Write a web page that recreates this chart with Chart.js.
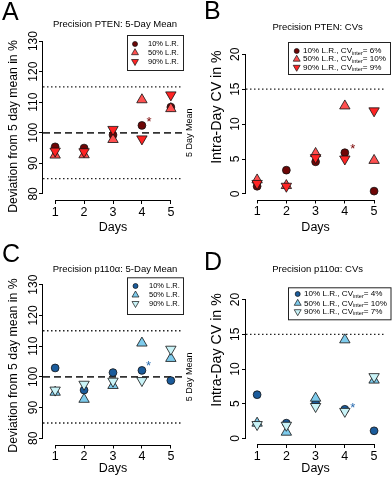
<!DOCTYPE html>
<html>
<head>
<meta charset="utf-8">
<script src="https://cdn.jsdelivr.net/npm/chart.js@4.4.0/dist/chart.umd.min.js"></script>
<style>
  body { margin: 0; background: #fff; }
  .grid { display: grid; grid-template-columns: 196px 196px; width: 392px; }
  canvas { display: block; }
</style>
</head>
<body>
<div class="grid">
  <canvas id="chartA" width="196" height="240"></canvas>
  <canvas id="chartB" width="196" height="240"></canvas>
  <canvas id="chartC" width="196" height="241"></canvas>
  <canvas id="chartD" width="196" height="241"></canvas>
</div>
<script>
// ---- data ----
const days = [1, 2, 3, 4, 5];
const levelLabels = ["10% L.R.", "50% L.R.", "90% L.R."];
const meanTicks = [80, 90, 100, 110, 120, 130];
const cvTicks = [0, 5, 10, 15, 20];

// PTEN: deviation from 5 day mean (%)
const ptenMean10 = [95.4, 95.0, 99.3, 102.4, 108.4];
const ptenMean50 = [92.7, 92.8, 97.8, 110.8, 107.9];
const ptenMean90 = [94.0, 93.8, 101.1, 98.0, 112.4];
// PTEN: intra-day CV (%)
const ptenCv10 = [1.1, 3.4, 4.6, 5.9, 0.4];
const ptenCv50 = [2.0, 1.2, 5.8, 12.6, 4.8];
const ptenCv90 = [1.5, 1.1, 5.2, 5.0, 11.9];
const ptenCvInter = [6, 10, 9];

// p110a: deviation from 5 day mean (%)
const p110Mean10 = [102.9, 95.7, 101.4, 102.1, 98.8];
const p110Mean50 = [95.0, 92.7, 97.2, 111.0, 106.0];
const p110Mean90 = [95.7, 97.6, 98.6, 98.8, 109.0];
// p110a: intra-day CV (%)
const p110Cv10 = [6.3, 2.2, 5.1, 4.2, 1.1];
const p110Cv50 = [2.2, 0.9, 5.8, 14.2, 8.4];
const p110Cv90 = [2.0, 1.9, 4.6, 3.9, 8.9];
const p110CvInter = [4, 10, 7];

// limits and reference lines
const meanLimits = [85, 115];
const meanCentre = 100;
const cvLimit = 15;
const starDay = 4;

// ---- styles ----
const FONT = "'Liberation Sans', Arial, sans-serif";
const markers = [
  { style: "circle", rot: 0, r: 3.9, lr: 2.5 },
  { style: "triangle", rot: 0, r: 6, lr: 4 },
  { style: "triangle", rot: 180, r: 6, lr: 4 }
];
const ptenColors = ["#6e0606", "#ff5050", "#ff2424"];
const p110Colors = ["#1b5c9c", "#7ecbec", "#c9f3f7"];

function seriesSets(rows, colors) {
  return rows.map((vals, i) => ({
    label: levelLabels[i],
    data: days.map((d, j) => ({ x: d, y: vals[j] })),
    pointStyle: markers[i].style,
    rotation: markers[i].rot,
    pointRadius: markers[i].r,
    pointHoverRadius: markers[i].r,
    backgroundColor: colors[i],
    borderColor: "#111",
    borderWidth: 0.8,
    order: 3 - i,
    clip: false
  }));
}

function refLine(y, xr, dash, width, color) {
  return {
    type: "line",
    data: [{ x: xr[0], y: y }, { x: xr[1], y: y }],
    borderDash: dash, borderWidth: width, borderColor: color,
    pointRadius: 0, fill: false, order: 10, clip: false
  };
}

// draws the R-like bits: axis lines, titles, legend, asterisk
function decor(p) {
  return {
    id: "decor" + p.letter,
    afterDraw(chart) {
      const ctx = chart.ctx, xs = chart.scales.x, ys = chart.scales.y, a = chart.chartArea;
      ctx.save();
      ctx.strokeStyle = "#000";
      ctx.lineWidth = 1;
      ctx.beginPath();
      ctx.moveTo(xs.getPixelForValue(days[0]), Math.round(a.bottom) + 0.5);
      ctx.lineTo(xs.getPixelForValue(days[days.length - 1]), Math.round(a.bottom) + 0.5);
      ctx.moveTo(Math.round(a.left) - 0.5, ys.getPixelForValue(p.yTicks[0]));
      ctx.lineTo(Math.round(a.left) - 0.5, ys.getPixelForValue(p.yTicks[p.yTicks.length - 1]));
      ctx.stroke();

      ctx.fillStyle = "#000";
      ctx.font = "25px " + FONT;
      ctx.textAlign = "left";
      ctx.textBaseline = "alphabetic";
      ctx.fillText(p.letter, p.letterPos[0], p.letterPos[1]);

      ctx.font = "9.5px " + FONT;
      ctx.textAlign = "center";
      ctx.textBaseline = "middle";
      ctx.fillText(p.title, (a.left + a.right) / 2 + 2, p.titleY);

      ctx.save();
      ctx.translate(p.yTitleX, (a.top + a.bottom) / 2 + p.yTitleDy);
      ctx.rotate(-Math.PI / 2);
      ctx.font = p.yTitleSize + "px " + FONT;
      ctx.fillText(p.yTitle, 0, 0);
      ctx.restore();

      if (p.meanLabel) {
        ctx.save();
        ctx.translate(a.right + 7, ys.getPixelForValue(meanCentre));
        ctx.rotate(-Math.PI / 2);
        ctx.font = "9px " + FONT;
        ctx.fillText("5 Day Mean", 0, 0);
        ctx.restore();
      }

      // legend
      const L = p.legend;
      ctx.lineWidth = 1;
      ctx.strokeStyle = "#222";
      ctx.strokeRect(L.x0 + 0.5, L.y0 + 0.5, L.x1 - L.x0, L.y1 - L.y0);
      ctx.textAlign = "left";
      ctx.textBaseline = "middle";
      L.rows.forEach((ry, i) => {
        ctx.fillStyle = p.colors[i];
        ctx.strokeStyle = "#111";
        ctx.lineWidth = 0.7;
        Chart.helpers.drawPoint(ctx, {
          pointStyle: markers[i].style, rotation: markers[i].rot,
          radius: markers[i].lr, borderWidth: 0.7
        }, L.symX, ry);
        ctx.fillStyle = "#000";
        ctx.font = L.size + "px " + FONT;
        if (p.cvInter) {
          let tx = L.textX;
          const t1 = levelLabels[i] + ", CV";
          ctx.fillText(t1, tx, ry);
          tx += ctx.measureText(t1).width;
          ctx.font = (L.size * 0.68) + "px " + FONT;
          ctx.fillText("inter", tx, ry + 2);
          tx += ctx.measureText("inter").width;
          ctx.font = L.size + "px " + FONT;
          ctx.fillText("= " + p.cvInter[i] + "%", tx, ry);
        } else {
          ctx.fillText(levelLabels[i], L.textX, ry);
        }
      });

      // asterisk next to the day-4 10% point
      ctx.fillStyle = p.starColor;
      ctx.font = "13px " + FONT;
      ctx.textAlign = "center";
      ctx.textBaseline = "middle";
      ctx.fillText("*", xs.getPixelForValue(starDay) + p.starOff[0],
                   ys.getPixelForValue(p.series[0][starDay - 1]) + p.starOff[1]);
      ctx.restore();
    }
  };
}

function makePanel(p) {
  const canvas = document.getElementById(p.id);
  const H = canvas.height, W = canvas.width;
  const datasets = seriesSets(p.series, p.colors).concat(
    p.refs.map(r => refLine(r.y, p.xRange, r.dash, r.w, r.c)));
  return new Chart(canvas.getContext("2d"), {
    type: "scatter",
    data: { datasets: datasets },
    options: {
      responsive: false,
      animation: false,
      devicePixelRatio: 1,
      layout: { padding: { top: p.box.top, right: W - p.box.right, left: 0, bottom: 0 } },
      plugins: { legend: { display: false }, tooltip: { enabled: false }, title: { display: false } },
      scales: {
        x: {
          type: "linear", min: p.xRange[0], max: p.xRange[1],
          afterBuildTicks: s => { s.ticks = days.map(v => ({ value: v })); },
          afterFit: s => { s.height = H - p.box.bottom; },
          border: { display: false },
          grid: { drawOnChartArea: false, drawTicks: true, tickLength: 4, color: "#000", lineWidth: 1 },
          ticks: { color: "#000", font: { family: FONT, size: 12.5 }, padding: 1, maxRotation: 0, autoSkip: false },
          title: { display: true, text: "Days", color: "#000", font: { family: FONT, size: 12.5 }, padding: { top: 0, bottom: 5 } }
        },
        y: {
          type: "linear", min: p.yRange[0], max: p.yRange[1],
          afterBuildTicks: s => { s.ticks = p.yTicks.map(v => ({ value: v })); },
          afterFit: s => { s.width = p.box.left; },
          border: { display: false },
          grid: { drawOnChartArea: false, drawTicks: true, tickLength: 4, color: "#000", lineWidth: 1 },
          ticks: { color: "#000", font: { family: FONT, size: 12 }, crossAlign: "center",
                   minRotation: 90, maxRotation: 90, padding: p.yTickPad }
        }
      }
    },
    plugins: [decor(p)]
  });
}

const meanRefs = [
  { y: meanLimits[0], dash: [1.5, 2.5], w: 1.3, c: "#222" },
  { y: meanLimits[1], dash: [1.5, 2.5], w: 1.3, c: "#222" },
  { y: meanCentre, dash: [7, 4], w: 1.8, c: "#333" }
];
const cvRefs = [{ y: cvLimit, dash: [1.5, 2.5], w: 1.3, c: "#222" }];

makePanel({
  id: "chartA", letter: "A", letterPos: [2, 20],
  title: "Precision PTEN: 5-Day Mean", titleY: 24.5,
  yTitle: "Deviation from 5 day mean in %", yTitleX: 14, yTitleDy: 9, yTitleSize: 12.2,
  box: { left: 43, top: 35, right: 183, bottom: 200 },
  xRange: [0.58, 5.42], yRange: [78, 132], yTicks: meanTicks, yTickPad: -5,
  series: [ptenMean10, ptenMean50, ptenMean90], colors: ptenColors,
  refs: meanRefs, meanLabel: true,
  legend: { x0: 127, y0: 35, x1: 183, y1: 70, symX: 135, textX: 148, rows: [44, 52.7, 61.5], size: 7.5 },
  starColor: "#7a0000", starOff: [7, -3]
});

makePanel({
  id: "chartB", letter: "B", letterPos: [8, 19],
  title: "Precision PTEN: CVs", titleY: 27,
  yTitle: "Intra-Day CV in %", yTitleX: 21, yTitleDy: -17, yTitleSize: 14.2,
  box: { left: 50, top: 48.7, right: 196, bottom: 199.5 },
  xRange: [0.62, 5.38], yRange: [-0.8, 20.8], yTicks: cvTicks, yTickPad: -0.5,
  series: [ptenCv10, ptenCv50, ptenCv90], colors: ptenColors,
  refs: cvRefs, meanLabel: false, cvInter: ptenCvInter,
  legend: { x0: 92, y0: 42, x1: 194, y1: 74, symX: 100.7, textX: 107, rows: [51, 59.2, 67.3], size: 8.1 },
  starColor: "#7a0000", starOff: [8, -3.5]
});

makePanel({
  id: "chartC", letter: "C", letterPos: [2, 22],
  title: "Precision p110\u03b1: 5-Day Mean", titleY: 29,
  yTitle: "Deviation from 5 day mean in %", yTitleX: 14, yTitleDy: 4, yTitleSize: 12.3,
  box: { left: 43, top: 38.5, right: 183, bottom: 204.5 },
  xRange: [0.58, 5.42], yRange: [78, 132], yTicks: meanTicks, yTickPad: -5,
  series: [p110Mean10, p110Mean50, p110Mean90], colors: p110Colors,
  refs: meanRefs, meanLabel: true,
  legend: { x0: 127, y0: 37.3, x1: 183, y1: 74, symX: 135.5, textX: 149, rows: [46, 55, 63.5], size: 7.5 },
  starColor: "#2a6cb0", starOff: [6.5, -4]
});

makePanel({
  id: "chartD", letter: "D", letterPos: [8, 30],
  title: "Precision p110\u03b1: CVs", titleY: 29,
  yTitle: "Intra-Day CV in %", yTitleX: 21, yTitleDy: -19, yTitleSize: 14.2,
  box: { left: 50, top: 54, right: 196, bottom: 204 },
  xRange: [0.62, 5.38], yRange: [-0.8, 20.8], yTicks: cvTicks, yTickPad: -0.5,
  series: [p110Cv10, p110Cv50, p110Cv90], colors: p110Colors,
  refs: cvRefs, meanLabel: false, cvInter: p110CvInter,
  legend: { x0: 92, y0: 47.3, x1: 194.5, y1: 79.3, symX: 101.7, textX: 108, rows: [54, 63.3, 71.7], size: 8.1 },
  starColor: "#2a6cb0", starOff: [8, -1]
});
</script>
</body>
</html>
